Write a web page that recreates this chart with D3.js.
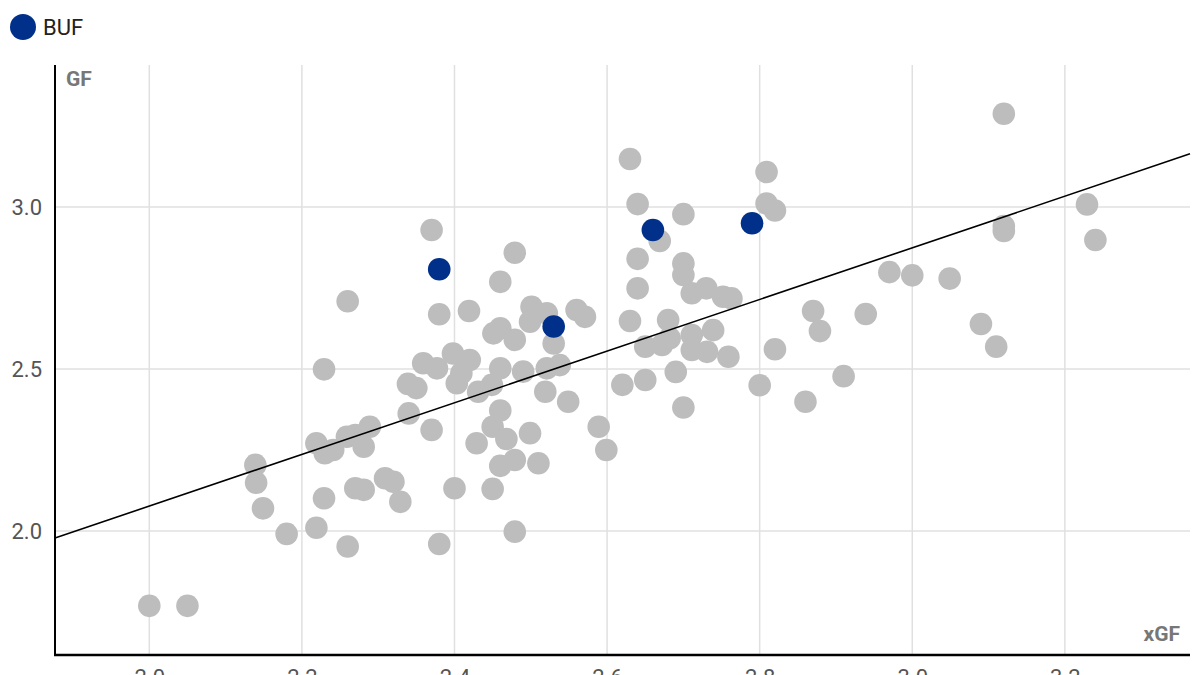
<!DOCTYPE html>
<html>
<head>
<meta charset="utf-8">
<script src="https://cdn.jsdelivr.net/npm/d3@7"></script>
<style>
  html, body { margin: 0; padding: 0; background: #fff; }
  svg { display: block; font-family: Roboto, "Noto Sans", sans-serif; }
</style>
</head>
<body>
<svg id="chart" width="1200" height="675"></svg>
<script>
// league teams: expected goals for (xGF) vs actual goals for (GF), per game
const leagueXGF = [2.000,2.050,2.139,2.140,2.149,2.180,2.219,2.219,2.230,2.241,2.229,2.229,2.259,2.270,2.281,2.289,
  2.260,2.260,2.270,2.281,2.309,2.320,2.329,2.340,2.339,2.350,2.370,2.380,2.370,2.380,2.359,2.377,2.398,2.420,
  2.403,2.409,2.400,2.419,2.431,2.429,2.449,2.450,2.460,2.468,2.460,2.450,2.479,2.479,2.460,2.479,2.451,2.460,
  2.479,2.460,2.490,2.499,2.510,2.501,2.521,2.499,2.530,2.521,2.538,2.519,2.549,2.560,2.571,2.589,2.599,2.620,
  2.630,2.640,2.640,2.640,2.630,2.650,2.650,2.669,2.700,2.700,2.700,2.711,2.730,2.752,2.763,2.680,2.672,2.682,
  2.711,2.711,2.731,2.739,2.759,2.690,2.700,2.809,2.809,2.820,2.800,2.820,2.860,2.870,2.879,2.910,2.939,2.970,
  3.000,3.049,3.090,3.110,3.120,3.120,3.120,3.229,3.240];
const leagueGF = [1.769,1.769,2.204,2.149,2.070,1.991,2.010,2.271,2.240,2.250,2.499,2.101,2.291,2.296,2.260,2.322,
  2.709,1.952,2.132,2.127,2.163,2.152,2.090,2.363,2.454,2.441,2.929,2.669,2.312,1.960,2.518,2.502,2.548,2.528,
  2.456,2.487,2.132,2.679,2.430,2.271,2.451,2.322,2.372,2.284,2.201,2.130,2.219,1.998,2.769,2.859,2.610,2.626,
  2.590,2.502,2.492,2.302,2.209,2.692,2.672,2.646,2.579,2.502,2.512,2.430,2.399,2.682,2.661,2.322,2.250,2.451,
  3.148,3.009,2.840,2.749,2.648,2.569,2.466,2.895,2.978,2.826,2.790,2.734,2.749,2.723,2.718,2.651,2.574,2.595,
  2.605,2.559,2.553,2.620,2.538,2.491,2.381,3.108,3.011,2.989,2.450,2.561,2.399,2.679,2.617,2.478,2.670,2.799,
  2.789,2.779,2.639,2.569,3.288,2.941,2.926,3.008,2.898];

// highlighted team
const bufLabel = "BUF";
const bufXGF = [2.380, 2.530, 2.660, 2.790];
const bufGF  = [2.808, 2.631, 2.929, 2.950];

// least-squares fit shown as the black line
const fitSlope = 0.797;
const fitIntercept = 0.483;

const xTicks = [2.0, 2.2, 2.4, 2.6, 2.8, 3.0, 3.2];
const yTicks = [2.0, 2.5, 3.0];
const xDomain = [1.8764, 3.364];
const yDomain = [1.6173, 3.4383];

const GREY = "#bdbdbd", NAVY = "#00308a";
const L = 55, R = 1190, T = 65, B = 655;

const svg = d3.select("#chart");
const x = d3.scaleLinear().domain(xDomain).range([L, R]);
const y = d3.scaleLinear().domain(yDomain).range([B, T]);

// grid
const gGrid = svg.append("g");
gGrid.selectAll("line.vx").data(xTicks).join("line")
  .attr("x1", d => x(d)).attr("x2", d => x(d))
  .attr("y1", T).attr("y2", B)
  .attr("stroke", "#e0e0e0").attr("stroke-width", 1.5);
gGrid.selectAll("line.hy").data(yTicks).join("line")
  .attr("x1", L).attr("x2", R)
  .attr("y1", d => y(d)).attr("y2", d => y(d))
  .attr("stroke", "#e0e0e0").attr("stroke-width", 1.5);

// axes (labels only, lines drawn separately); x labels run off the bottom edge as in the source
const fmt = d3.format(".1f");
svg.append("g")
  .attr("transform", `translate(0,${B})`)
  .call(d3.axisBottom(x).tickValues(xTicks).tickFormat(fmt).tickSize(0).tickPadding(14))
  .call(g => g.select(".domain").remove())
  .call(g => g.selectAll("text").attr("fill", "#555").attr("font-size", 22)
    .attr("font-family", "Roboto, sans-serif"));

svg.append("g")
  .attr("transform", `translate(${L},0)`)
  .call(d3.axisLeft(y).tickValues(yTicks).tickFormat(fmt).tickSize(0).tickPadding(13))
  .call(g => g.select(".domain").remove())
  .call(g => g.selectAll("text").attr("fill", "#555").attr("font-size", 22)
    .attr("font-family", "Roboto, sans-serif"));

// league dots
const league = leagueXGF.map((v, i) => ({ xgf: v, gf: leagueGF[i] }));
svg.append("g").selectAll("circle").data(league).join("circle")
  .attr("cx", d => x(d.xgf)).attr("cy", d => y(d.gf))
  .attr("r", 11.3).attr("fill", GREY);

// fit line
svg.append("line")
  .attr("x1", x(xDomain[0])).attr("y1", y(fitIntercept + fitSlope * xDomain[0]))
  .attr("x2", x(xDomain[1])).attr("y2", y(fitIntercept + fitSlope * xDomain[1]))
  .attr("stroke", "#000").attr("stroke-width", 1.6);

// highlighted dots
const buf = bufXGF.map((v, i) => ({ xgf: v, gf: bufGF[i] }));
svg.append("g").selectAll("circle").data(buf).join("circle")
  .attr("cx", d => x(d.xgf)).attr("cy", d => y(d.gf))
  .attr("r", 11.3).attr("fill", NAVY);

// axis lines
svg.append("line").attr("x1", L).attr("x2", L).attr("y1", T).attr("y2", B + 1)
  .attr("stroke", "#000").attr("stroke-width", 2);
svg.append("line").attr("x1", L - 1).attr("x2", R).attr("y1", B).attr("y2", B)
  .attr("stroke", "#000").attr("stroke-width", 2.6);

// axis titles
svg.append("text").attr("x", L + 11).attr("y", 86)
  .attr("font-size", 21).attr("font-weight", 700).attr("fill", "#777").text("GF");
svg.append("text").attr("x", R - 10).attr("y", 641).attr("text-anchor", "end")
  .attr("font-size", 21).attr("font-weight", 700).attr("fill", "#777").text("xGF");

// legend
svg.append("circle").attr("cx", 23).attr("cy", 27).attr("r", 13).attr("fill", NAVY);
svg.append("text").attr("x", 43).attr("y", 35)
  .attr("font-size", 22).attr("fill", "#222").text(bufLabel);
</script>
</body>
</html>
